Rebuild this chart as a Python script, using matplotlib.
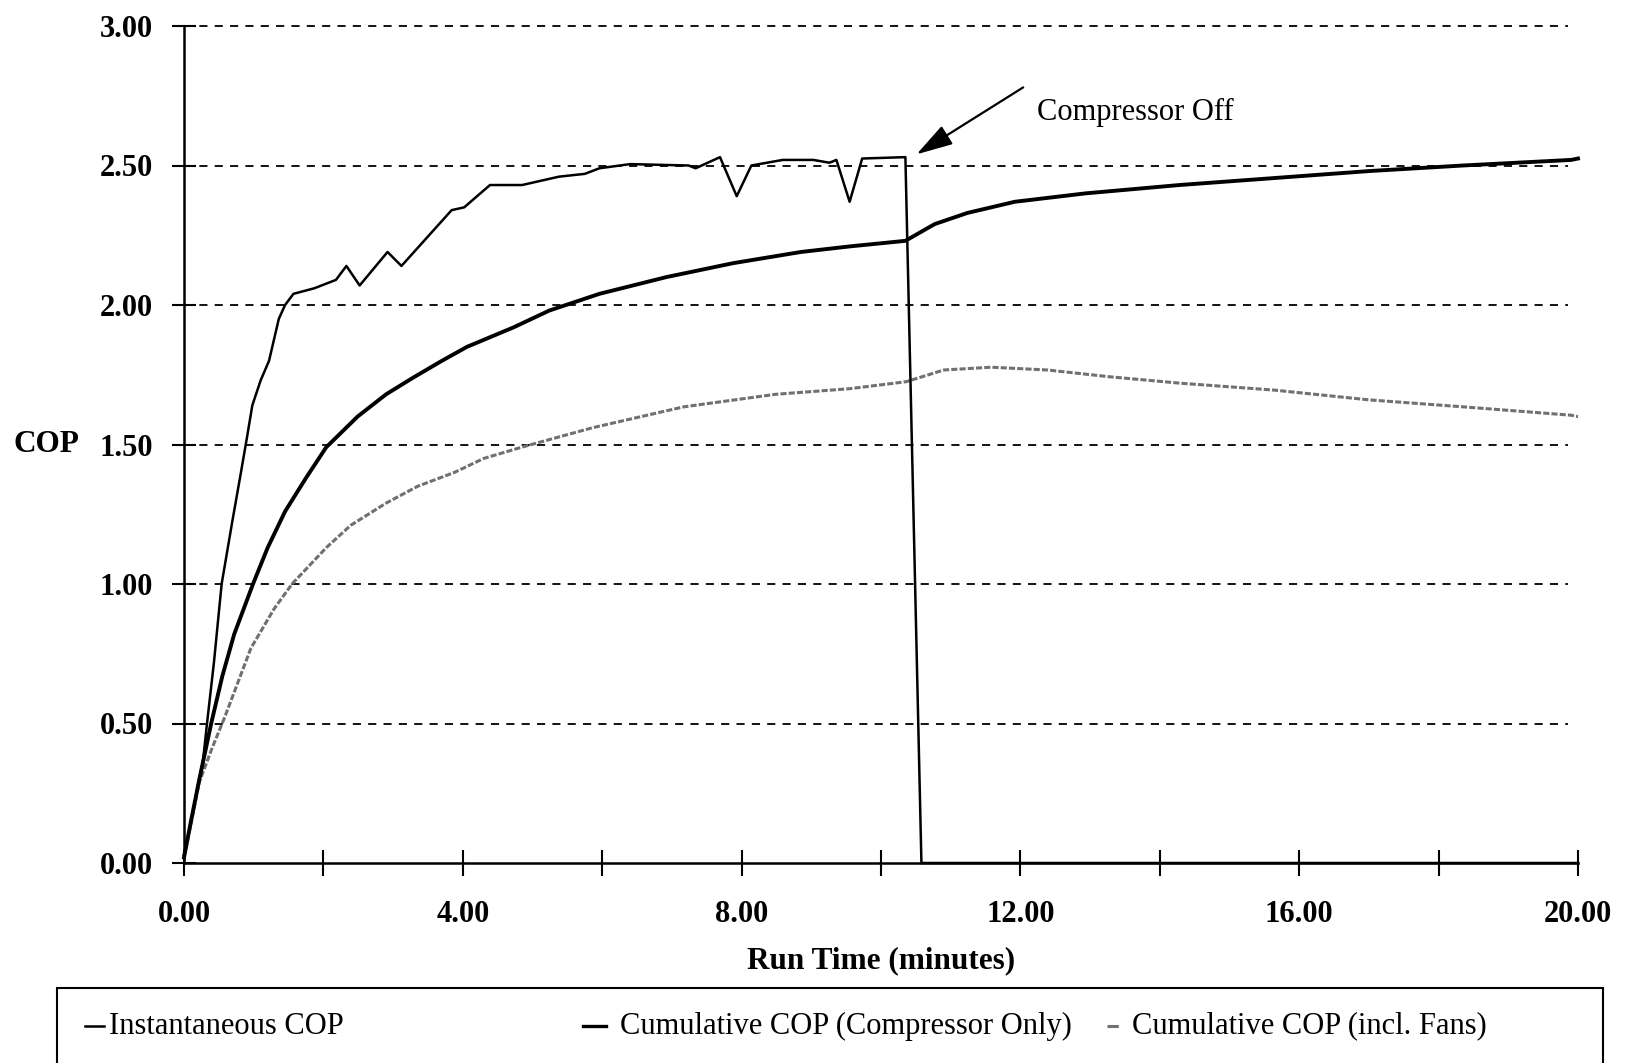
import matplotlib
matplotlib.use("Agg")
import matplotlib.pyplot as plt
from matplotlib.lines import Line2D
from matplotlib.patches import Rectangle
import numpy as np

plt.rcParams['font.family'] = ['Liberation Serif', 'DejaVu Serif']

# ---------------- data ----------------
inst_t = [0.00, 0.08, 0.20, 0.27, 0.33, 0.43, 0.54, 0.69, 0.81, 0.90, 0.98, 1.10,
          1.22, 1.36, 1.45, 1.57, 1.87, 2.18, 2.33, 2.52, 2.92, 3.12, 3.84, 4.02,
          4.39, 4.85, 5.38, 5.75, 5.96, 6.40, 7.24, 7.34, 7.69, 7.93, 8.14, 8.59,
          9.03, 9.26, 9.36, 9.55, 9.73, 10.35, 10.58, 20.00]
inst_cop = [0.03, 0.12, 0.28, 0.36, 0.50, 0.72, 1.00, 1.22, 1.39, 1.52, 1.64, 1.73,
            1.80, 1.95, 2.00, 2.04, 2.06, 2.09, 2.14, 2.07, 2.19, 2.14, 2.34, 2.35,
            2.43, 2.43, 2.46, 2.47, 2.49, 2.505, 2.50, 2.49, 2.53, 2.39, 2.50, 2.52,
            2.52, 2.51, 2.52, 2.37, 2.525, 2.53, 0.00, 0.00]

comp_t = [0.00, 0.10, 0.22, 0.39, 0.55, 0.72, 0.99, 1.20, 1.45, 1.75, 2.04, 2.49,
          2.90, 3.29, 3.70, 4.06, 4.73, 5.24, 5.96, 6.92, 7.88, 8.85, 9.55, 10.35,
          10.77, 11.24, 11.92, 12.93, 14.28, 15.64, 17.00, 18.35, 19.90, 20.00]
comp_cop = [0.02, 0.15, 0.30, 0.50, 0.67, 0.82, 1.00, 1.13, 1.26, 1.38, 1.49, 1.60,
            1.68, 1.74, 1.80, 1.85, 1.92, 1.98, 2.04, 2.10, 2.15, 2.19, 2.21, 2.23,
            2.29, 2.33, 2.37, 2.40, 2.43, 2.455, 2.48, 2.50, 2.52, 2.525]

fans_t = [0.00, 0.10, 0.22, 0.40, 0.58, 0.96, 1.29, 1.55, 2.04, 2.39, 2.90, 3.35,
          3.88, 4.30, 4.84, 5.86, 7.17, 8.49, 9.55, 10.36, 10.90, 11.58, 12.39,
          13.27, 14.28, 15.64, 17.00, 18.35, 19.90, 20.00]
fans_cop = [0.02, 0.14, 0.29, 0.41, 0.52, 0.77, 0.91, 1.00, 1.13, 1.21, 1.29, 1.35,
            1.40, 1.45, 1.49, 1.56, 1.635, 1.68, 1.70, 1.725, 1.767, 1.777, 1.767,
            1.743, 1.72, 1.695, 1.66, 1.635, 1.605, 1.60]

x_ticks = [0, 2, 4, 6, 8, 10, 12, 14, 16, 18, 20]
x_tick_labels = ['0.00', '', '4.00', '', '8.00', '', '12.00', '', '16.00', '', '20.00']
y_ticks = [0.0, 0.5, 1.0, 1.5, 2.0, 2.5, 3.0]
y_tick_labels = ['0.00', '0.50', '1.00', '1.50', '2.00', '2.50', '3.00']
grid_levels = [0.5, 1.0, 1.5, 2.0, 2.5, 3.0]

series_labels = ['Instantaneous COP', 'Cumulative COP (Compressor Only)',
                 'Cumulative COP (incl. Fans)']

off_point = (10.51, 2.54)
off_arrow_tail = (12.04, 2.78)
off_text_pos = (12.24, 2.69)

# ---------------- figure ----------------
W, H = 1625, 1063
fig = plt.figure(figsize=(W / 100, H / 100), dpi=100)
ax = fig.add_axes([184 / W, 1 - 863 / H, (1578 - 184) / W, (863 - 26) / H])
ax.set_xlim(0, 20)
ax.set_ylim(0, 3)

for lvl in grid_levels:
    ax.axhline(lvl, xmin=0, xmax=0.993, color='black', lw=1.3,
               linestyle=(0, (4.5, 4.0)), clip_on=False, zorder=1)

fans_line, = ax.plot(fans_t, fans_cop, color='#707070', lw=2.2,
                     linestyle=(0, (2.0, 0.7)), clip_on=False, zorder=3)
comp_line, = ax.plot(comp_t, comp_cop, color='black', lw=2.8,
                     clip_on=False, zorder=4)
inst_line, = ax.plot(inst_t, inst_cop, color='black', lw=1.8,
                     clip_on=False, zorder=5)

for s in ['top', 'right']:
    ax.spines[s].set_visible(False)
for s in ['left', 'bottom']:
    ax.spines[s].set_linewidth(1.8)

ax.set_xticks(x_ticks)
ax.set_xticklabels(x_tick_labels)
ax.set_yticks(y_ticks)
ax.set_yticklabels(y_tick_labels)
ax.tick_params(axis='x', direction='inout', length=19, width=1.5, pad=17,
               labelsize=22)
ax.tick_params(axis='y', direction='inout', length=17, width=1.5, pad=14,
               labelsize=22)
for lab in ax.get_xticklabels() + ax.get_yticklabels():
    lab.set_fontweight('bold')

ax.set_xlabel('Run Time (minutes)', fontsize=22.5, fontweight='bold')
ax.xaxis.set_label_coords(0.5, (863 - 961) / 837)
ax.xaxis.label.set_va('center')
ax.set_ylabel('COP', fontsize=22.5, fontweight='bold', rotation=0)
ax.yaxis.set_label_coords((46.5 - 184) / 1394, 0.5)
ax.yaxis.label.set_va('center')
ax.yaxis.label.set_ha('center')

ax.annotate('', xy=off_point, xytext=off_arrow_tail,
            arrowprops=dict(arrowstyle='-|>,head_length=0.75,head_width=0.22',
                            mutation_scale=30, lw=1.6, color='black',
                            shrinkA=0, shrinkB=0))
ax.text(off_text_pos[0], off_text_pos[1], 'Compressor Off', fontsize=22,
        ha='left', va='center')

# ---------------- legend box (bottom, partially cut) ----------------
top = 1 - 988 / H
fig.add_artist(Rectangle((57 / W, -0.05), (1603 - 57) / W, top + 0.05,
                         transform=fig.transFigure, fill=False,
                         edgecolor='black', lw=1.5))
ly = 1 - 1026 / H
entries = [
    (85, 104, 109, inst_line),
    (583, 606, 620, comp_line),
    (1107, 1122, 1132, fans_line),
]
for (x0, x1, xt, ln), lab in zip(entries, series_labels):
    fig.add_artist(Line2D([x0 / W, x1 / W], [ly, ly], transform=fig.transFigure,
                          color=ln.get_color(), lw=min(ln.get_linewidth(), 2.4),
                          linestyle=ln.get_linestyle()))
    fig.text(xt / W, ly, lab, fontsize=22, ha='left', va='center')

fig.savefig('out.png', dpi=100)
